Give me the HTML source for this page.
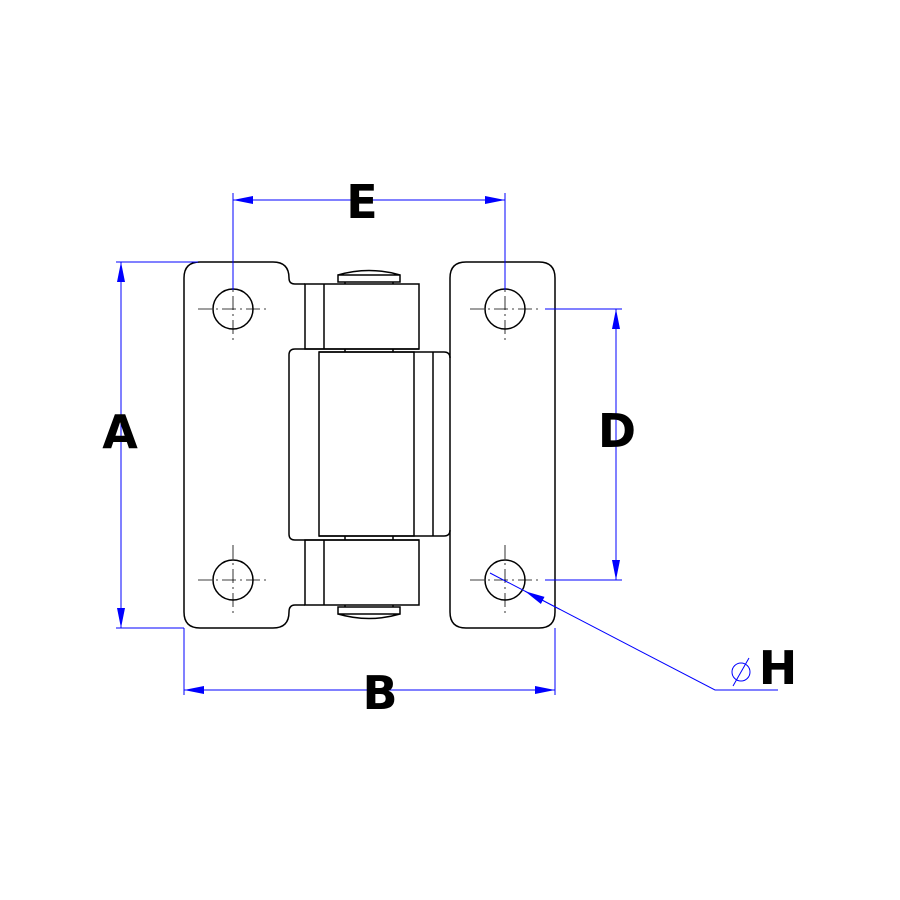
<!DOCTYPE html>
<html><head><style>body{margin:0;background:#fff}svg{display:block}</style></head><body>
<svg width="900" height="900" viewBox="0 0 900 900" xmlns="http://www.w3.org/2000/svg">
<defs>
<marker id="ar" viewBox="0 0 20 8" refX="20" refY="4" markerWidth="20" markerHeight="8" markerUnits="userSpaceOnUse" orient="auto-start-reverse"><path d="M0,0 L20,4 L0,8 z" fill="#00f"/></marker>
</defs>
<g fill="none" stroke="#000" stroke-width="1.5">
<!-- left leaf -->
<path d="M305,284 H295 Q289,284 289,278 Q289,262 273,262 H200 Q184,262 184,278 V612 Q184,628 200,628 H273 Q289,628 289,612 Q289,605 295,605 H305"/>
<path d="M419,349 H295 Q289,349 289,355 V534 Q289,540 295,540 H419"/>
<!-- right leaf -->
<path d="M466,262 H539 Q555,262 555,278 V612 Q555,628 539,628 H466 Q450,628 450,612 V278 Q450,262 466,262 Z"/>
<path d="M319,352 H444 Q450,352 450,358 M319,536 H444 Q450,536 450,530"/>
<!-- middle -->
<rect x="319" y="352" width="95" height="184"/>
<line x1="433" y1="352" x2="433" y2="536"/>
<!-- knuckles -->
<rect x="305" y="284" width="114" height="65"/>
<line x1="324" y1="284" x2="324" y2="349"/>
<rect x="305" y="540" width="114" height="65"/>
<line x1="324" y1="540" x2="324" y2="605"/>
<line x1="345" y1="349" x2="345" y2="352"/><line x1="393" y1="349" x2="393" y2="352"/>
<line x1="345" y1="536" x2="345" y2="540"/><line x1="393" y1="536" x2="393" y2="540"/>
<!-- caps -->
<path d="M338,282 V275 H400 V282 Z M338,275 Q369,266 400,275 M345,282 V284 M393,282 V284"/>
<path d="M338,607 V614 H400 V607 Z M338,614 Q369,623 400,614 M345,605 V607 M393,605 V607"/>
<!-- holes -->
<circle cx="233" cy="309" r="20"/><circle cx="505" cy="309" r="20"/>
<circle cx="233" cy="580" r="20"/><circle cx="505" cy="580" r="20"/>
</g>
<g stroke="#000" stroke-width="0.8" stroke-dasharray="14,4,2,4" fill="none">
<path d="M198,309 H268 M233,272 V344 M470,309 H540 M505,272 V344 M198,580 H268 M233,545 V615 M470,580 H540 M505,545 V615"/>
</g>
<g stroke="#00f" stroke-width="1" fill="none">
<path d="M233,193 V290 M505,193 V290"/>
<line x1="233" y1="200" x2="505" y2="200" marker-start="url(#ar)" marker-end="url(#ar)"/>
<path d="M116,262 H198 M116,628 H184"/>
<line x1="121" y1="262" x2="121" y2="628" marker-start="url(#ar)" marker-end="url(#ar)"/>
<path d="M545,309 H622 M545,580 H622"/>
<line x1="616" y1="309" x2="616" y2="580" marker-start="url(#ar)" marker-end="url(#ar)"/>
<path d="M184,628 V695 M555,628 V695"/>
<line x1="184" y1="690" x2="555" y2="690" marker-start="url(#ar)" marker-end="url(#ar)"/>
<path d="M778,690 H715 L490,573"/>
<line x1="560" y1="609.4" x2="525" y2="591.2" marker-end="url(#ar)"/>
<circle cx="741" cy="672" r="9"/><line x1="733" y1="686" x2="749" y2="658"/>
</g>
<g font-family="'DejaVu Sans','Liberation Sans',sans-serif" font-weight="bold" font-size="46" fill="#000" text-anchor="middle">
<text x="362" y="218">E</text>
<text x="120" y="448">A</text>
<text x="617" y="447">D</text>
<text x="380" y="709">B</text>
<text x="778" y="684">H</text>
</g>
</svg>
</body></html>
